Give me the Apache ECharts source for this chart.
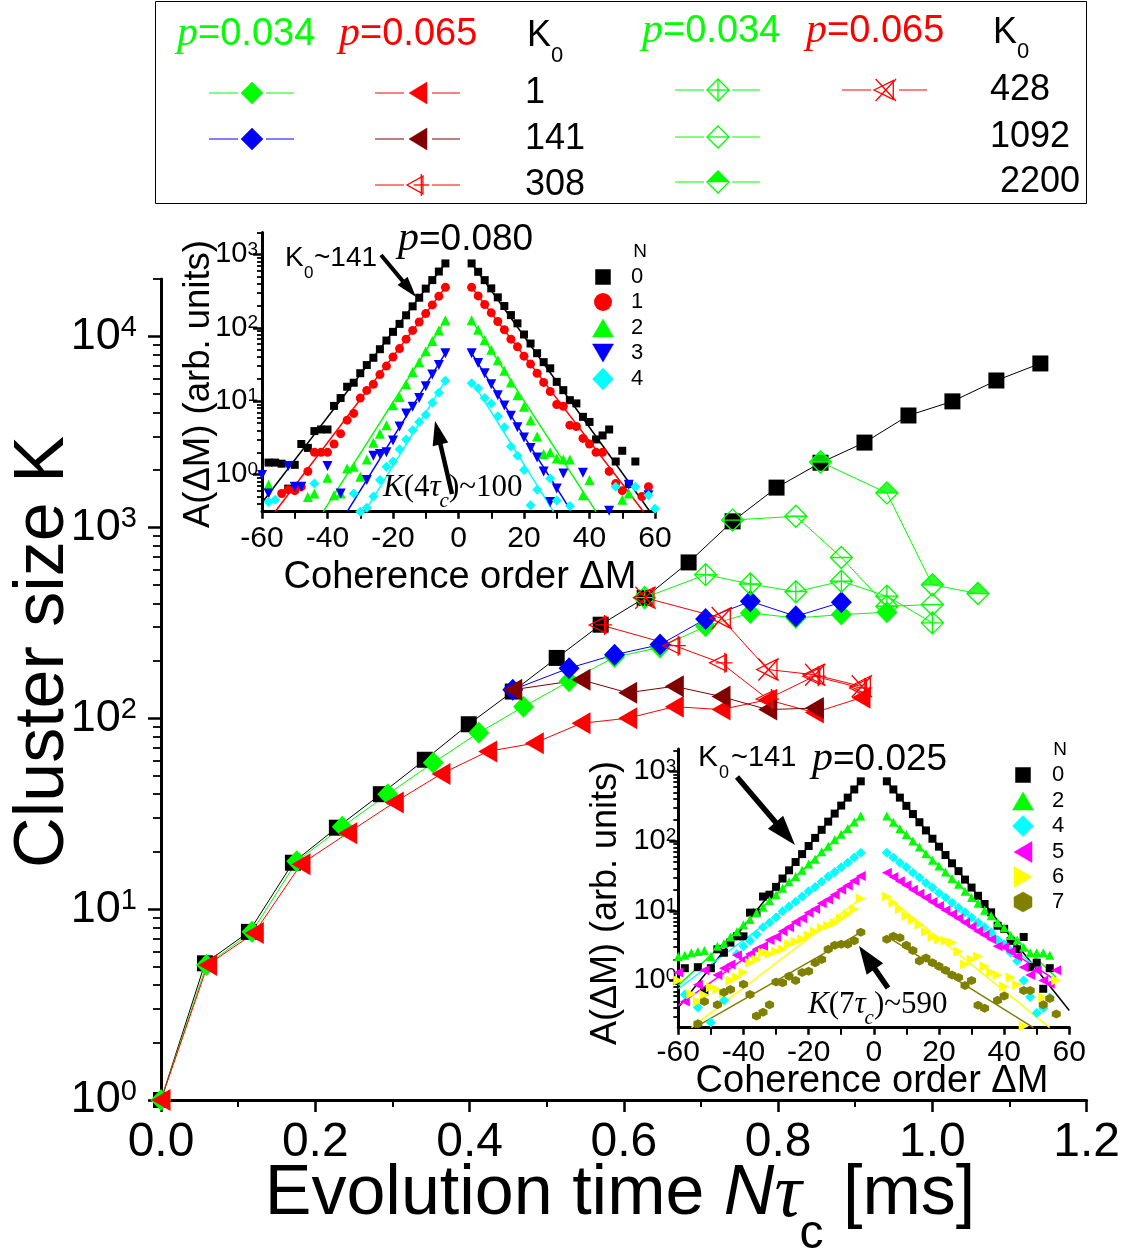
<!DOCTYPE html>
<html>
<head>
<meta charset="utf-8">
<script src="https://cdn.jsdelivr.net/npm/echarts@6/dist/echarts.min.js"></script>
<style>
html,body{margin:0;padding:0;background:#fff;}
#chart{width:1123px;height:1253px;}
</style>
</head>
<body>
<div id="chart"></div>
<script>
// ================= MAIN CHART DATA (time in ms, cluster size K) =================
const xTicksMain = [0, 0.2, 0.4, 0.6, 0.8, 1.0, 1.2];
const yTicksMain = [1, 10, 100, 1000, 10000];

const tBlack = [0, 0.057, 0.114, 0.171, 0.228, 0.285, 0.342, 0.399, 0.456, 0.513, 0.570, 0.627, 0.684, 0.741, 0.798, 0.855, 0.912, 0.969, 1.026, 1.083, 1.140];
const kBlack = [1, 5.2, 7.6, 17.5, 26.7, 40, 60.6, 93, 138, 207, 309, 427, 655, 1075, 1615, 2180, 2780, 3855, 4570, 5880, 7220];

// p = 0.034
const tG1 = [0, 0.059, 0.118, 0.176, 0.235, 0.294, 0.353, 0.412, 0.470, 0.529, 0.588, 0.647, 0.706, 0.764, 0.823, 0.882, 0.941];
const kG1 = [1, 5.1, 7.6, 17.8, 27, 40, 58.5, 84, 115, 156, 209, 235, 303, 356, 335, 349, 359];
const tB141 = [0.456, 0.529, 0.588, 0.647, 0.706, 0.764, 0.823, 0.882];
const kB141 = [141, 183, 215, 243, 331, 410, 342, 405];
const tG428 = [0.627, 0.706, 0.764, 0.823, 0.882, 0.941, 1.000];
const kG428 = [428, 565, 505, 460, 522, 436, 316];
const tG1092 = [0.741, 0.823, 0.882, 0.941, 1.000];
const kG1092 = [1092, 1143, 695, 386, 394];
const tG2200 = [0.855, 0.941, 1.000, 1.059];
const kG2200 = [2200, 1515, 500, 450];

// p = 0.065
const tR1 = [0, 0.0605, 0.121, 0.1815, 0.242, 0.3025, 0.363, 0.4235, 0.484, 0.5445, 0.605, 0.6655, 0.726, 0.7865, 0.847, 0.9075];
const kR1 = [1, 5.1, 7.5, 17.2, 25, 36.2, 51, 67, 74, 94, 100, 115, 111, 125, 107, 128];
const tD141 = [0.456, 0.5445, 0.605, 0.6655, 0.726, 0.7865, 0.847];
const kD141 = [141, 159, 136, 147, 130, 111, 113];
const tR308 = [0.570, 0.6655, 0.726, 0.7865, 0.847, 0.9075];
const kR308 = [308, 240, 195, 126, 166, 144];
const tR428 = [0.627, 0.726, 0.7865, 0.847, 0.9075];
const kR428 = [428, 335, 180, 169, 147];

// ================= INSETS: coherence order ΔM =================
const dM = [-60,-58,-56,-54,-52,-50,-48,-46,-44,-42,-40,-38,-36,-34,-32,-30,-28,-26,-24,-22,-20,-18,-16,-14,-12,-10,-8,-6,-4,
            4,6,8,10,12,14,16,18,20,22,24,26,28,30,32,34,36,38,40,42,44,46,48,50,52,54,56,58,60];
const xTicksInset = [-60, -40, -20, 0, 20, 40, 60];
const yTicksInset = [1, 10, 100, 1000];

// inset p = 0.080, N = 0..4
const a80N0 = [null, 1.45, 1.45, 1.4, 0.64, 1.35, 2.6, 2.3, 3.9, 4.1, 4.1, 8.6, 11, 15.7, 17.8, 24, 31, 39, 51, 67, 88, 113, 148, 196, 257, 342, 447, 585, 755,
               755, 580, 447, 345, 260, 198, 149, 115, 81, 61, 45, 34, 28, 18.3, 14.1, 10.3, 9.3, 6.1, 5.2, 3.0, 3.4, 4.1, 1.5, 2.1, 0.74, 1.5, null, null, null];
const a80N1 = [null, null, null, 0.55, 0.62, 0.6, 0.68, 1.1, 2.0, 2.0, 2.0, 2.6, 3.6, 5.5, 6.8, 11, 14, 17, 23, 30, 40, 52, 70, 92, 120, 156, 205, 270, 356,
               356, 272, 208, 160, 122, 94, 70, 55, 41, 32, 24, 18, 13.5, 9.0, 8.5, 4.7, 4.5, 3.1, 2.6, 2.0, 2.0, 1.1, 0.75, 0.6, null, null, 0.5, 0.68, null];
const a80N2 = [null, 0.72, null, null, null, null, null, 0.49, 0.55, null, 0.9, 0.52, 0.55, 1.2, 1.27, 0.93, 1.6, 2.7, 3.6, 4.7, 8.8, 11.4, 17, 25, 34, 48, 66, 92, 127,
               127, 94, 68, 50, 36, 26, 18, 12, 8.4, 5.5, 3.3, 1.9, 2.0, 1.65, 1.6, 1.6, null, 0.52, 0.84, null, null, null, null, 0.45, 0.55, null, null, null, null];
const a80N3 = [0.98, 0.55, null, null, 1.3, 0.68, 0.68, null, null, null, 1.3, null, 0.55, null, null, null, 0.84, 1.8, 1.9, 2.0, 2.9, 4.5, 6.8, 8.4, 11, 16, 23, 31, 45,
               45, 33, 24, 17, 12, 8.7, 6.3, 4.4, 3.2, 2.3, 1.7, 1.1, 0.42, 0.64, 1.03, null, null, 1.05, null, null, null, 0.32, null, null, 0.72, null, null, 0.52, null];
const a80N4 = [null, 0.42, 0.45, null, null, null, null, null, 0.75, null, null, null, null, null, 0.55, 0.31, 0.35, 0.5, 0.84, 1.27, 1.5, 2.2, 3.0, 4.0, 5.2, 6.5, 9.5, 13, 19,
               17.5, 15, 11, 9.3, 6.2, 4.4, 2.4, 1.8, 1.15, 0.38, 0.62, null, 0.88, 0.44, null, 0.37, null, null, null, null, null, null, 0.68, null, null, 0.68, null, 0.52, 0.34];
// fit lines [x1, y1, x2, y2]
const fit80Left  = [[-60, 0.41, -4, 760], [-56, 0.31, -4, 356], [-41.3, 0.31, -4, 127], [-34, 0.31, -4, 45], [-28.6, 0.31, -4, 19]];
const fit80Right = [[4, 760, 58.5, 0.31], [4, 356, 56.5, 0.31], [4, 127, 42, 0.31], [4, 45, 34.5, 0.31], [4, 19, 29, 0.31]];
const n80Labels = ['0', '1', '2', '3', '4'];

// inset p = 0.025, N = 0,2,4,5,6,7
const a25N0 = [null, 1.5, null, 1.55, 0.7, 1.5, 2.8, 2.5, 3.5, 4.3, 4.3, 9.4, 9.4, 16, 17, 22, 29, 38, 50, 65, 85, 111, 145, 190, 248, 323, 420, 550, 720,
               720, 550, 420, 320, 244, 186, 142, 108, 83, 63, 48, 37, 28, 21.5, 16.4, 12.5, 9.5, 6.1, 5.5, 3.7, 2.8, 4.2, 1.55, 1.8, 0.76, 1.5, null, null, null];
const a25N2 = [2.2, 2.3, 2.5, 2.6, 2.7, 2.2, 3.1, 3.4, 4.2, 5.0, 6.3, 7.5, 9.4, 11.2, 14, 17, 21, 26, 31, 38, 47, 55, 70, 84, 104, 125, 152, 188, 228,
               228, 186, 150, 124, 100, 82, 66, 53, 44, 36, 29, 24, 19, 15.5, 12.8, 10.2, 8.5, 6.8, 5.7, 4.4, 3.8, 3.0, 2.5, 2.5, 2.5, 2.3, null, null, null];
const a25N4 = [null, 0.63, null, 0.41, null, 0.25, null, 0.52, null, 2.4, 3.1, 3.7, 4.6, 5.8, 6.8, 8.0, 9.8, 11.5, 13.5, 16, 19, 22, 26, 31, 36, 42, 49, 58, 68,
               68, 58, 49, 42, 35, 30, 25, 21.5, 18, 15.5, 13, 11, 9.5, 8.0, 6.8, 5.8, 4.9, 3.8, 3.3, 2.5, 1.9, 1.0, 0.58, 0.34, 0.4, 0.57, null, null, null];
const a25N5 = [1.3, 0.5, null, 0.87, 1.4, null, 1.2, 1.5, 1.7, 2.3, 2.0, 2.4, 2.8, 3.1, 3.8, 4.2, 5.1, 5.8, 6.9, 7.8, 9.4, 10.6, 12.8, 14.5, 17, 20, 23, 27, 31.6,
               35, 30.5, 26.6, 23.2, 20, 17.6, 15.4, 13.4, 11.7, 10.2, 8.9, 7.8, 6.8, 5.9, 5.1, 4.5, 3.9, 3.1, 3.0, 2.6, 2.2, 1.55, 1.2, 1.4, 1.0, 0.9, 1.4, null, null];
const a25N6 = [1.0, null, 0.64, 0.5, 0.62, 0.8, 0.74, 0.65, 1.0, 1.1, 1.3, 1.8, 2.0, 2.5, 2.4, 2.6, 2.8, 3.3, 3.6, 3.9, 4.4, 5.0, 5.7, 6.1, 6.7, 7.8, 8.9, 10.5, 15,
               16, 13, 10.5, 8.4, 7.4, 6.3, 5.0, 4.2, 3.9, 3.7, 3.5, 2.6, 1.7, 2.0, 2.2, 1.6, 1.3, 1.2, 0.82, 1.1, 0.87, 0.22, null, null, 0.57, null, 1.0, null, null];
const a25N7 = [null, null, null, 0.24, 0.5, null, 0.45, 0.68, 0.74, null, 0.88, 0.63, 0.31, 0.35, 0.45, 0.95, 0.93, 1.15, 1.0, 1.3, 1.35, 1.8, 2.0, 2.8, 3.2, 3.3, 3.3, 3.7, 4.9,
               3.9, 4.3, 4.1, 3.2, 2.7, 1.9, 2.1, 1.8, 1.6, 1.4, 1.2, 1.1, 0.85, 1.0, 0.44, 0.4, null, 0.52, 0.6, null, null, 0.72, 0.72, null, 0.45, 0.55, 0.33, null, null];
const fit25Left  = [[-60, 0.41, -4, 720], [-60, 0.85, -4, 228], [-60, 0.76, -4, 68], [-60, 0.44, -4, 31.6], [-56, 0.21, -4, 15], [-55, 0.21, -4, 4.9]];
const fit25Right = [[4, 720, 60, 0.37], [4, 228, 56, 1.1], [4, 68, 56, 0.95], [4, 35, 56, 1.0], [4, 16, 54, 0.21], [4, 4.3, 49, 0.21]];
const n25Labels = ['0', '2', '4', '5', '6', '7'];

// ================= STYLES =================
const SANS = '"Liberation Sans", Arial, Helvetica, sans-serif';
const SERIF = '"Liberation Serif", "Times New Roman", serif';
const GREEN = '#00ff00', RED = '#ff0000', BLUE = '#0000ff', DRED = '#800000';
const P_DPLUS = 'path://M5,0L10,5L5,10L0,5ZM5,0L5,10M0,5L10,5';
const P_DH = 'path://M5,0L10,5L5,10L0,5ZM0,5L10,5';
const P_DTOP = 'path://M0,5L5,0L10,5Z';
const P_TPLUS = 'path://M0,6L11,1L11,11ZM4,6L15,6M10,0L10,12';
const P_TX = 'path://M0,6L12,0.5L12,11.5ZM1,0L13,12M1,12L13,0';
const P_HEX = 'path://M5,0L9.33,2.5L9.33,7.5L5,10L0.67,7.5L0.67,2.5Z';

const ins1Colors = ['#000000', '#ff0000', '#00ff00', '#0000ff', '#00ffff'];
const ins1Symbols = ['rect', 'circle', 'triangle', 'triangle', 'diamond'];
const ins1Rot = [0, 0, 0, 180, 0];
const ins1Size = [8, 9, 10, 10, 10];
const ins2Colors = ['#000000', '#00ff00', '#00ffff', '#ff00ff', '#ffff00', '#808000'];
const ins2Symbols = ['rect', 'triangle', 'diamond', 'triangle', 'triangle', P_HEX];
const ins2Rot = [0, 0, 0, 90, -90, 0];
const ins2Size = [8, 9, 10, 10, 10, 9];

function pairs(xs, ys) {
  const out = [];
  for (let i = 0; i < xs.length; i++) if (ys[i] != null) out.push([xs[i], ys[i]]);
  return out;
}
function minorLogTicks(lo, hi) {
  const out = [];
  for (let e = -2; e <= 5; e++) for (let m = 2; m <= 9; m++) {
    const v = +(m * Math.pow(10, e)).toPrecision(6);
    if (v >= lo && v <= hi) out.push(v);
  }
  return out;
}
function powLabel(v) {
  const e = Math.log10(v), r = Math.round(e);
  if (Math.abs(e - r) > 1e-6) return '';
  return '{b|10}{e|' + r + '}';
}

// ================= AXES =================
const grids = [
  { left: 161, top: 279, width: 932, height: 821 },
  { left: 262, top: 232.4, width: 393, height: 279.3 },
  { left: 678.3, top: 748.9, width: 391, height: 278.8 }
];

function xAx(gi, min, max, interval, fs, fmt, tickLen, margin) {
  return {
    type: 'value', gridIndex: gi, min, max, interval,
    axisLine: { show: true, onZero: false, lineStyle: { color: '#000', width: 3 } },
    axisTick: { show: true, length: tickLen, lineStyle: { color: '#000', width: 2.5 } },
    minorTick: { show: true, splitNumber: 2, length: gi === 0 ? 7 : tickLen, lineStyle: { color: '#000', width: 2 } },
    splitLine: { show: false }, minorSplitLine: { show: false },
    axisLabel: { fontSize: fs, fontFamily: SANS, color: '#000', margin, formatter: fmt }
  };
}
function yAxMajor(gi, min, max, ticks, bs, es, pad, margin, tickLen) {
  return {
    type: 'log', logBase: 10, gridIndex: gi, min, max, position: 'left',
    axisLine: { show: true, onZero: false, lineStyle: { color: '#000', width: 3 } },
    axisTick: { show: true, length: tickLen, customValues: ticks, lineStyle: { color: '#000', width: 2.5 } },
    splitLine: { show: false },
    axisLabel: {
      customValues: ticks, margin, color: '#000', formatter: powLabel,
      rich: {
        b: { fontSize: bs, lineHeight: bs, fontFamily: SANS, color: '#000', padding: [pad, 0, 0, 0], verticalAlign: 'bottom' },
        e: { fontSize: es, lineHeight: es, fontFamily: SANS, color: '#000', verticalAlign: 'top' }
      }
    }
  };
}
function yAxMinor(gi, min, max, tickLen) {
  return {
    type: 'log', logBase: 10, gridIndex: gi, min, max, position: 'left', offset: 0,
    axisLine: { show: false, onZero: false },
    axisTick: { show: true, length: tickLen, customValues: minorLogTicks(min, max), lineStyle: { color: '#000', width: 1.8 } },
    axisLabel: { show: false }, splitLine: { show: false }
  };
}

const xAxes = [
  xAx(0, 0, 1.2, 0.2, 48, v => v.toFixed(1), 12, 19),
  xAx(1, -60, 60, 20, 30, null, 7, 12),
  xAx(2, -60, 60, 20, 30, null, 7, 10)
];
const yAxes = [
  yAxMajor(0, 1, 20000, yTicksMain, 45, 29, 12, 24, 13),
  yAxMinor(0, 1, 20000, 8),
  yAxMajor(1, 0.31, 2000, yTicksInset, 29, 19, 7, 4, 9),
  yAxMinor(1, 0.31, 2000, 5),
  yAxMajor(2, 0.21, 2100, yTicksInset, 29, 19, 7, 2, 9),
  yAxMinor(2, 0.21, 2100, 5)
];

// ================= SERIES =================
const series = [];
function mainLine(t, k, color, symbol, size, extra) {
  series.push(Object.assign({
    type: 'line', xAxisIndex: 0, yAxisIndex: 0, data: pairs(t, k),
    symbol, symbolSize: size, showSymbol: true, showAllSymbol: true,
    itemStyle: { color: color, opacity: 1 },
    lineStyle: { color: color, width: 1 },
    emphasis: { disabled: true }, silent: true, z: 3
  }, extra || {}));
}
function openStyle(color) {
  return { itemStyle: { color: 'rgba(0,0,0,0)', borderColor: color, borderWidth: 1.3 }, lineStyle: { color: color, width: 1 } };
}
mainLine(tBlack, kBlack, '#000', 'rect', 16);
mainLine(tG1, kG1, GREEN, 'diamond', [21, 22]);
mainLine(tB141, kB141, BLUE, 'diamond', [21, 22]);
mainLine(tG428, kG428, GREEN, P_DPLUS, 22, openStyle(GREEN));
mainLine(tG1092, kG1092, GREEN, P_DH, 22, openStyle(GREEN));
mainLine(tG2200, kG2200, GREEN, P_DH, 22, openStyle(GREEN));
series.push({
  type: 'scatter', xAxisIndex: 0, yAxisIndex: 0, data: pairs(tG2200, kG2200),
  symbol: P_DTOP, symbolSize: [22, 11], symbolOffset: [0, -5.5],
  itemStyle: { color: GREEN }, silent: true, z: 3
});
mainLine(tR1, kR1, RED, 'triangle', [22, 19], { symbolRotate: 90 });
mainLine(tD141, kD141, DRED, 'triangle', [22, 19], { symbolRotate: 90 });
mainLine(tR308, kR308, RED, P_TPLUS, [23, 20], openStyle(RED));
mainLine(tR428, kR428, RED, P_TX, [22, 22], openStyle(RED));

function insetSeries(xi, yi, vals, colors, symbols, rots, sizes, fitsL, fitsR) {
  vals.forEach((v, i) => {
    const fl = fitsL[i], fr = fitsR[i];
    [[fl[0], fl[1], fl[2], fl[3]], [fr[0], fr[1], fr[2], fr[3]]].forEach(f => {
      series.push({
        type: 'line', xAxisIndex: xi, yAxisIndex: yi, data: [[f[0], f[1]], [f[2], f[3]]],
        showSymbol: false, symbol: 'none', lineStyle: { color: colors[i], width: 1.5 }, silent: true, z: 4
      });
    });
    series.push({
      type: 'scatter', xAxisIndex: xi, yAxisIndex: yi, data: pairs(dM, v),
      symbol: symbols[i], symbolRotate: rots[i], symbolSize: sizes[i],
      itemStyle: { color: colors[i], opacity: 1 }, silent: true, z: 5
    });
  });
}
insetSeries(1, 2, [a80N0, a80N1, a80N2, a80N3, a80N4], ins1Colors, ins1Symbols, ins1Rot, ins1Size, fit80Left, fit80Right);
insetSeries(2, 4, [a25N0, a25N2, a25N4, a25N5, a25N6, a25N7], ins2Colors, ins2Symbols, ins2Rot, ins2Size, fit25Left, fit25Right);

// ================= GRAPHIC (legend, annotations, titles) =================
const G = [];
const mctx = document.createElement('canvas').getContext('2d');
function textWidth(t, size, family, style) {
  mctx.font = (style || 'normal') + ' ' + size + 'px ' + family;
  return mctx.measureText(t).width;
}
function txt(x, y, text, size, o) {
  return { type: 'text', x, y, z: 100, style: Object.assign({ text, fontSize: size, fontFamily: SANS, fill: '#000', align: 'left', verticalAlign: 'middle', textAlign: 'left', textVerticalAlign: 'middle' }, o || {}) };
}
// a run of text pieces with individual fonts/offsets (for italics and subscripts)
function runText(x, y, parts, align) {
  const ws = parts.map(p => textWidth(p.t, p.size, p.family || SANS, p.style));
  const total = ws.reduce((a, b) => a + b, 0);
  let cx = align === 'center' ? x - total / 2 : x;
  parts.forEach((p, i) => {
    G.push(txt(cx + (p.dx || 0), y + (p.dy || 0), p.t, p.size, { fontFamily: p.family || SANS, fontStyle: p.style || 'normal', fill: p.color || '#000' }));
    cx += ws[i] + (p.dx || 0);
  });
}
function seg(x1, y1, x2, y2, color, w) {
  return { type: 'line', z: 100, shape: { x1, y1, x2, y2 }, style: { stroke: color, lineWidth: w || 1 } };
}
function gSym(kind, cx, cy, w, h, color) {
  const a = w / 2, b = h / 2, out = [];
  const poly = (pts, filled) => ({ type: 'polygon', z: 101, shape: { points: pts.map(p => [cx + p[0], cy + p[1]]) },
    style: { fill: filled ? color : 'none', stroke: color, lineWidth: filled ? 0.5 : 1.3 } });
  const ln = (x1, y1, x2, y2) => seg(cx + x1, cy + y1, cx + x2, cy + y2, color, 1.3);
  const dia = [[0, -b], [a, 0], [0, b], [-a, 0]];
  switch (kind) {
    case 'rect': out.push(poly([[-a, -b], [a, -b], [a, b], [-a, b]], true)); break;
    case 'circle': out.push({ type: 'circle', z: 101, shape: { cx, cy, r: a }, style: { fill: color } }); break;
    case 'diamond': out.push(poly(dia, true)); break;
    case 'up': out.push(poly([[0, -b], [a, b], [-a, b]], true)); break;
    case 'down': out.push(poly([[0, b], [a, -b], [-a, -b]], true)); break;
    case 'left': out.push(poly([[-a, 0], [a, -b], [a, b]], true)); break;
    case 'right': out.push(poly([[a, 0], [-a, -b], [-a, b]], true)); break;
    case 'hex': out.push(poly([[0, -b], [a, -b / 2], [a, b / 2], [0, b], [-a, b / 2], [-a, -b / 2]], true)); break;
    case 'dplus': out.push(poly(dia, false), ln(0, -b, 0, b), ln(-a, 0, a, 0)); break;
    case 'dh': out.push(poly(dia, false), ln(-a, 0, a, 0)); break;
    case 'dtop': out.push(poly([[-a, 0], [0, -b], [a, 0]], true), poly(dia, false)); break;
    case 'tplus': out.push(poly([[-a, 0], [a * 0.45, -b * 0.8], [a * 0.45, b * 0.8]], false), ln(-a * 0.4, 0, a, 0), ln(a * 0.3, -b, a * 0.3, b)); break;
    case 'tx': out.push(poly([[-a, 0], [a * 0.75, -b * 0.85], [a * 0.75, b * 0.85]], false), ln(-a * 0.85, -b, a, b), ln(-a * 0.85, b, a, -b)); break;
  }
  return out;
}
function arrow(x1, y1, x2, y2, w, hl, hw) {
  const dx = x2 - x1, dy = y2 - y1, L = Math.hypot(dx, dy), ux = dx / L, uy = dy / L;
  const bx = x2 - ux * hl, by = y2 - uy * hl, px = -uy, py = ux;
  return [seg(x1, y1, bx + ux * 2, by + uy * 2, '#000', w),
    { type: 'polygon', z: 100, shape: { points: [[x2, y2], [bx + px * hw / 2, by + py * hw / 2], [bx - px * hw / 2, by - py * hw / 2]] }, style: { fill: '#000' } }];
}
function pText(x, y, rest, color, ps, ns) {
  runText(x, y, [
    { t: 'p', size: ps, family: SERIF, style: 'italic', color, dy: -1 },
    { t: rest, size: ns, family: SANS, color }
  ], 'left');
}

// ---- top legend box ----
G.push({ type: 'rect', z: 99, shape: { x: 155.5, y: 1.5, width: 931, height: 202 }, style: { fill: 'none', stroke: '#000', lineWidth: 1 } });
pText(177, 35, '=0.034', GREEN, 42, 38);
pText(339, 35, '=0.065', RED, 42, 38);
G.push(txt(527, 36, 'K', 36), txt(551, 56, '0', 22));
pText(642, 32, '=0.034', GREEN, 42, 38);
pText(806, 32, '=0.065', RED, 42, 38);
G.push(txt(993, 33, 'K', 36), txt(1017, 52, '0', 22));
const legRowsL = [93, 139, 185], legRowsR = [90, 137, 182];
const legLabelsL = ['1', '141', '308'], legLabelsR = ['428', '1092', '2200'];
legLabelsL.forEach((s, i) => G.push(txt(525, legRowsL[i], s, 36)));
legLabelsR.forEach((s, i) => G.push(txt(i === 2 ? 1000 : 990, legRowsR[i], s, 36)));
function legItem(cx, cy, color, kind, w, h) {
  G.push(seg(cx - 43, cy, cx - 14, cy, color, 1), seg(cx + 14, cy, cx + 42, cy, color, 1));
  gSym(kind, cx, cy, w, h, color).forEach(e => G.push(e));
}
legItem(252, 93, GREEN, 'diamond', 22, 22);
legItem(252, 139, BLUE, 'diamond', 22, 22);
legItem(418, 93, RED, 'left', 18, 22);
legItem(418, 139, DRED, 'left', 18, 22);
legItem(418, 185, RED, 'tplus', 22, 22);
legItem(718, 90, GREEN, 'dplus', 22, 22);
legItem(718, 137, GREEN, 'dh', 22, 22);
legItem(718, 182, GREEN, 'dtop', 22, 22);
legItem(885, 90, RED, 'tx', 22, 22);

// ---- main axis titles ----
G.push({ type: 'text', x: 44, y: 652, rotation: Math.PI / 2, z: 100, style: { text: 'Cluster size K', fontSize: 70, fontFamily: SANS, fill: '#000', align: 'center', verticalAlign: 'middle', textAlign: 'center', textVerticalAlign: 'middle' } });
runText(621, 1195, [
  { t: 'Evolution time ', size: 70 },
  { t: 'N', size: 70, style: 'italic' },
  { t: 'τ', size: 76, family: SERIF, style: 'italic', dy: 1 },
  { t: 'c', size: 48, dy: 40, dx: -2 },
  { t: ' [ms]', size: 70 }
], 'center');

// ---- inset 1 annotations ----
G.push(txt(285, 258, 'K', 28), txt(304, 273, '0', 17), txt(314, 258, '~141', 28));
pText(398, 240, '=0.080', '#000', 42, 37);
G.push(...arrow(381, 255, 416, 297, 4, 21, 13));
G.push(...arrow(452, 494, 435, 421, 4.5, 24, 16));
function kTau(x, y, n, val) {
  runText(x, y, [
    { t: 'K', size: 31, family: SERIF, style: 'italic' },
    { t: '(' + n, size: 31, family: SERIF },
    { t: 'τ', size: 31, family: SERIF, style: 'italic' },
    { t: 'c', size: 21, family: SERIF, style: 'italic', dy: 13, dx: -1 },
    { t: ')~' + val, size: 31, family: SERIF }
  ], 'left');
}
kTau(383, 488, '4', '100');
G.push(txt(640, 252, 'N', 19, { align: 'center', textAlign: 'center' }));
const leg1Rows = [277, 302, 328, 353, 379];
const leg1Kinds = [['rect', 15, 15], ['circle', 18, 18], ['up', 21, 18], ['down', 21, 18], ['diamond', 21, 22]];
leg1Rows.forEach((y, i) => {
  gSym(leg1Kinds[i][0], 603, y, leg1Kinds[i][1], leg1Kinds[i][2], ins1Colors[i]).forEach(e => G.push(e));
  G.push(txt(637, y, n80Labels[i], 22, { align: 'center', textAlign: 'center' }));
});
G.push(txt(460, 578, 'Coherence order ΔM', 38, { align: 'center', textAlign: 'center' }));
G.push({ type: 'text', x: 199, y: 384, rotation: Math.PI / 2, z: 100, style: { text: 'A(ΔM) (arb. units)', fontSize: 36.5, fontFamily: SANS, fill: '#000', align: 'center', verticalAlign: 'middle', textAlign: 'center', textVerticalAlign: 'middle' } });

// ---- inset 2 annotations ----
G.push(txt(698, 758, 'K', 30), txt(719, 773, '0', 18), txt(731, 758, '~141', 29));
pText(812, 760, '=0.025', '#000', 42, 37);
G.push(...arrow(737, 777, 795, 845, 5.5, 30, 20));
G.push(...arrow(888, 988, 859, 946, 5.5, 28, 20));
kTau(808, 1005, '7', '590');
G.push(txt(1060, 750, 'N', 19, { align: 'center', textAlign: 'center' }));
const leg2Rows = [775, 801, 826, 852, 877, 902];
const leg2Kinds = [['rect', 15, 15], ['up', 21, 18], ['diamond', 21, 21], ['left', 18, 21], ['right', 18, 21], ['hex', 18, 20]];
leg2Rows.forEach((y, i) => {
  gSym(leg2Kinds[i][0], 1023, y, leg2Kinds[i][1], leg2Kinds[i][2], ins2Colors[i]).forEach(e => G.push(e));
  G.push(txt(1058, y, n25Labels[i], 22, { align: 'center', textAlign: 'center' }));
});
G.push(txt(872, 1082, 'Coherence order ΔM', 38, { align: 'center', textAlign: 'center' }));
G.push({ type: 'text', x: 606, y: 903, rotation: Math.PI / 2, z: 100, style: { text: 'A(ΔM) (arb. units)', fontSize: 36, fontFamily: SANS, fill: '#000', align: 'center', verticalAlign: 'middle', textAlign: 'center', textVerticalAlign: 'middle' } });

const option = {
  animation: false,
  backgroundColor: '#fff',
  textStyle: { fontFamily: SANS },
  grid: grids,
  xAxis: xAxes,
  yAxis: yAxes,
  series,
  graphic: { elements: G }
};
const chart = echarts.init(document.getElementById('chart'), null, { renderer: 'canvas' });
chart.setOption(option);
</script>
</body>
</html>
